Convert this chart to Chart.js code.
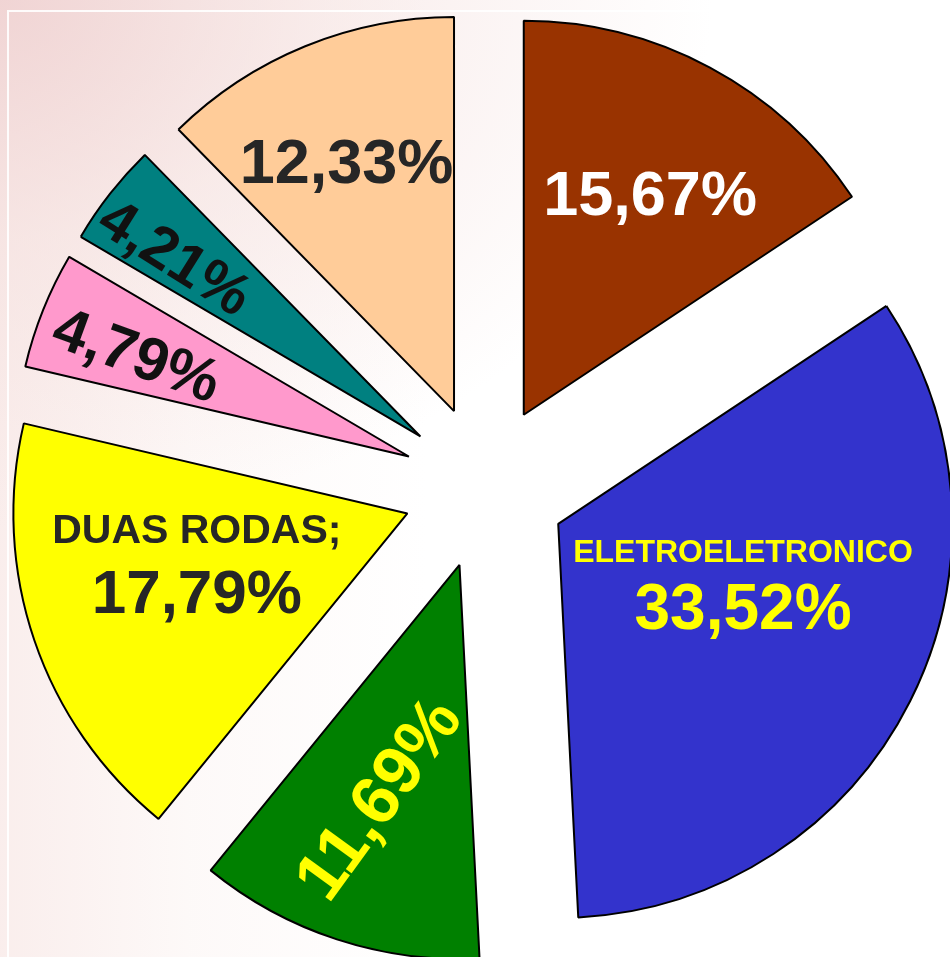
<!DOCTYPE html>
<html lang="pt">
<head>
  <meta charset="UTF-8">
  <title>Participação por segmento</title>
  <script src="https://cdn.jsdelivr.net/npm/chart.js"></script>
  <style>
    body { margin: 0; background: #fff; }
    .wrap { position: relative; width: 950px; height: 957px; overflow: hidden;
      background:
        radial-gradient(ellipse 75% 55% at 0% 0%, rgba(238,206,206,0.8) 0%, rgba(244,222,220,0.55) 45%, rgba(255,255,255,0) 100%),
        linear-gradient(to right, rgba(248,232,230,0.75) 0%, rgba(251,242,240,0.45) 20%, rgba(255,255,255,0) 45%);
    }
    .frame { position: absolute; left: 7px; top: 10px; width: 760px; height: 960px;
      border-top: 2px solid rgba(255,255,255,0.9); border-left: 2px solid rgba(255,255,255,0.9); }
    canvas { position: absolute; left: 0; top: 0; }
  </style>
</head>
<body>
  <div class="wrap">
    <div class="frame"></div>
    <canvas id="pie" width="950" height="957"></canvas>
  </div>
  <script>
    // fatias no sentido horário a partir do topo
    const categories = ['', 'ELETROELETRONICO', '', 'DUAS RODAS;', '', '', ''];
    const shares = [15.67, 33.52, 11.69, 17.79, 4.79, 4.21, 12.33];
    const colors = ['#993300', '#3333cc', '#008000', '#ffff00', '#ff99cc', '#008080', '#ffcc99'];

    // posição dos rótulos: fração do raio, desvio angular (graus), rotação do texto
    const labelStyle = [
      { frac: 0.649, shift: 1.4,   rotate: 0,   color: '#ffffff', size: 63 },
      { frac: 0.489, shift: -10.3, rotate: 0,   color: '#ffff00', size: 64, nameSize: 32, gap: 55 },
      { frac: 0.626, shift: 1.6,   rotate: -54, color: '#ffff00', size: 69 },
      { frac: 0.547, shift: 6.5,   rotate: 0,   color: '#262626', size: 62, nameSize: 41, gap: 62 },
      { frac: 0.737, shift: -1.0,  rotate: 20,  color: '#111111', size: 61 },
      { frac: 0.771, shift: -1.5,  rotate: 32,  color: '#111111', size: 59 },
      { frac: 0.693, shift: -1.0,  rotate: 0,   color: '#262626', size: 63 }
    ];

    const FONT = '"Liberation Sans", Arial, sans-serif';
    const fmt = v => v.toFixed(2).replace('.', ',') + '%';

    // afasta cada fatia do centro (pizza explodida)
    const explode = {
      id: 'explode',
      afterUpdate(chart, args, opts) {
        chart.getDatasetMeta(0).data.forEach(arc => {
          const mid = (arc.startAngle + arc.endAngle) / 2;
          arc.x += Math.cos(mid) * opts.distance;
          arc.y += Math.sin(mid) * opts.distance;
        });
      }
    };

    const sliceLabels = {
      id: 'sliceLabels',
      afterDatasetsDraw(chart) {
        const ctx = chart.ctx;
        chart.getDatasetMeta(0).data.forEach((arc, i) => {
          const st = labelStyle[i];
          const ang = (arc.startAngle + arc.endAngle) / 2 + st.shift * Math.PI / 180;
          const r = arc.outerRadius * st.frac;
          const x = arc.x + Math.cos(ang) * r;
          const y = arc.y + Math.sin(ang) * r;
          const lines = [];
          if (categories[i]) {
            lines.push({ text: categories[i], size: st.nameSize, dy: -st.gap / 2 });
            lines.push({ text: fmt(shares[i]), size: st.size, dy: st.gap / 2 });
          } else {
            lines.push({ text: fmt(shares[i]), size: st.size, dy: 0 });
          }
          ctx.save();
          ctx.translate(x, y);
          ctx.rotate(st.rotate * Math.PI / 180);
          ctx.fillStyle = st.color;
          ctx.textAlign = 'center';
          ctx.textBaseline = 'alphabetic';
          lines.forEach(l => {
            ctx.font = 'bold ' + l.size + 'px ' + FONT;
            ctx.fillText(l.text, 0, l.dy + l.size * 0.358);
          });
          ctx.restore();
        });
      }
    };

    new Chart(document.getElementById('pie'), {
      type: 'pie',
      data: {
        labels: categories,
        datasets: [{
          data: shares,
          backgroundColor: colors,
          borderColor: '#000',
          borderWidth: 2,
          offset: 0,
          hoverOffset: 0
        }]
      },
      options: {
        responsive: false,
        animation: false,
        radius: 394,
        layout: { padding: { left: 20, top: 17 } },
        plugins: {
          legend: { display: false },
          tooltip: { enabled: false },
          explode: { distance: 82 }
        }
      },
      plugins: [explode, sliceLabels]
    });
  </script>
</body>
</html>
